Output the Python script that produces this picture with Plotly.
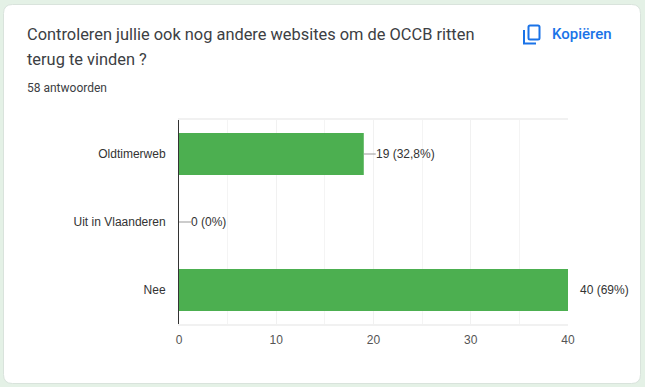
import plotly.graph_objects as go

categories = ["Oldtimerweb", "Uit in Vlaanderen", "Nee"]
counts = [19, 0, 40]
value_labels = ["19 (32,8%)", "0 (0%)", "40 (69%)"]
leader_px = [12, 12, 2]
label_gap_px = [10, 10, 10]
x_ticks = [0, 10, 20, 30, 40]

title_lines = ["Controleren jullie ook nog andere websites om de OCCB ritten", "terug te vinden ?"]
subtitle = "58 antwoorden"
copy_label = "Kopiëren"

W, H = 645, 387
L, R, T, B = 179, 77, 120, 63
BLUE = "#1a73e8"


def px(x):
    return (x - L) / (W - L - R)


def py(y):
    return 1 - (y - T) / (H - T - B)


def rrect(x0, y0, x1, y1, r):
    return (
        f"M{px(x0 + r)},{py(y0)} L{px(x1 - r)},{py(y0)} Q{px(x1)},{py(y0)} {px(x1)},{py(y0 + r)} "
        f"L{px(x1)},{py(y1 - r)} Q{px(x1)},{py(y1)} {px(x1 - r)},{py(y1)} "
        f"L{px(x0 + r)},{py(y1)} Q{px(x0)},{py(y1)} {px(x0)},{py(y1 - r)} "
        f"L{px(x0)},{py(y0 + r)} Q{px(x0)},{py(y0)} {px(x0 + r)},{py(y0)} Z"
    )


fig = go.Figure(
    go.Bar(x=counts, y=categories, orientation="h", marker=dict(color="#4caf50", line_width=0), hoverinfo="skip")
)

shapes = [
    dict(type="path", xref="paper", yref="paper", layer="below", path=rrect(3.5, 4.5, 640.5, 383.5, 9),
         fillcolor="#ffffff", line=dict(color="#d9e3dc", width=1)),
    dict(type="path", xref="paper", yref="paper", path=rrect(528.5, 25.5, 539.5, 39.5, 1.5),
         line=dict(color=BLUE, width=2), fillcolor="rgba(0,0,0,0)"),
    dict(type="path", xref="paper", yref="paper",
         path=f"M{px(524)},{py(30)} L{px(524)},{py(43.5)} L{px(536)},{py(43.5)}",
         line=dict(color=BLUE, width=2)),
]
for cat, v, lead in zip(categories, counts, leader_px):
    shapes.append(dict(type="line", xref="x", yref="y", xsizemode="pixel", xanchor=v, x0=0, x1=lead,
                       y0=cat, y1=cat, line=dict(color="#999999", width=1)))

annotations = []
for cat, v, txt, gap in zip(categories, counts, value_labels, label_gap_px):
    annotations.append(dict(x=v, y=cat, xref="x", yref="y", text=txt, showarrow=False, xanchor="left",
                            xshift=gap, font=dict(family="Liberation Sans, Arial", size=12, color="#333333")))


def page_text(x, y, text, size, color, family="Roboto", weight=400):
    annotations.append(dict(x=px(x), y=py(y), xref="paper", yref="paper", text=text, showarrow=False,
                            xanchor="left", yanchor="middle", xshift=-2,
                            font=dict(family=family, size=size, color=color, weight=weight)))


page_text(27, 35, title_lines[0], 16.4, "#3c4043")
page_text(27, 60, title_lines[1], 16.4, "#3c4043")
page_text(27, 88, subtitle, 12, "#3c4043")
page_text(552, 34.5, copy_label, 15, BLUE, weight=500)

fig.update_layout(
    width=W, height=H, margin=dict(l=L, r=R, t=T, b=B, pad=0),
    paper_bgcolor="#e4f1e6", plot_bgcolor="#ffffff",
    bargap=0.38, showlegend=False, shapes=shapes, annotations=annotations,
    xaxis=dict(range=[0, 40], tickvals=x_ticks, ticks="", showgrid=True, gridcolor="#f1f1f1", gridwidth=1,
               minor=dict(dtick=5, showgrid=True, gridcolor="#f4f4f4", ticks=""), zeroline=False,
               showline=True, linecolor="#f1f1f1", linewidth=2, mirror=True,
               tickfont=dict(family="Liberation Sans, Arial", size=12, color="#555555"), ticklabelstandoff=4),
    yaxis=dict(categoryorder="array", categoryarray=categories, autorange="reversed", showgrid=False,
               zeroline=False, showline=True, linecolor="#333333", linewidth=1, ticks="",
               tickfont=dict(family="Liberation Sans, Arial", size=12, color="#333333"), ticklabelstandoff=10),
)
fig.write_html("out.html", config=dict(displayModeBar=False),
               post_script="document.documentElement.style.margin='0';document.body.style.margin='0';document.body.style.overflow='hidden';")
